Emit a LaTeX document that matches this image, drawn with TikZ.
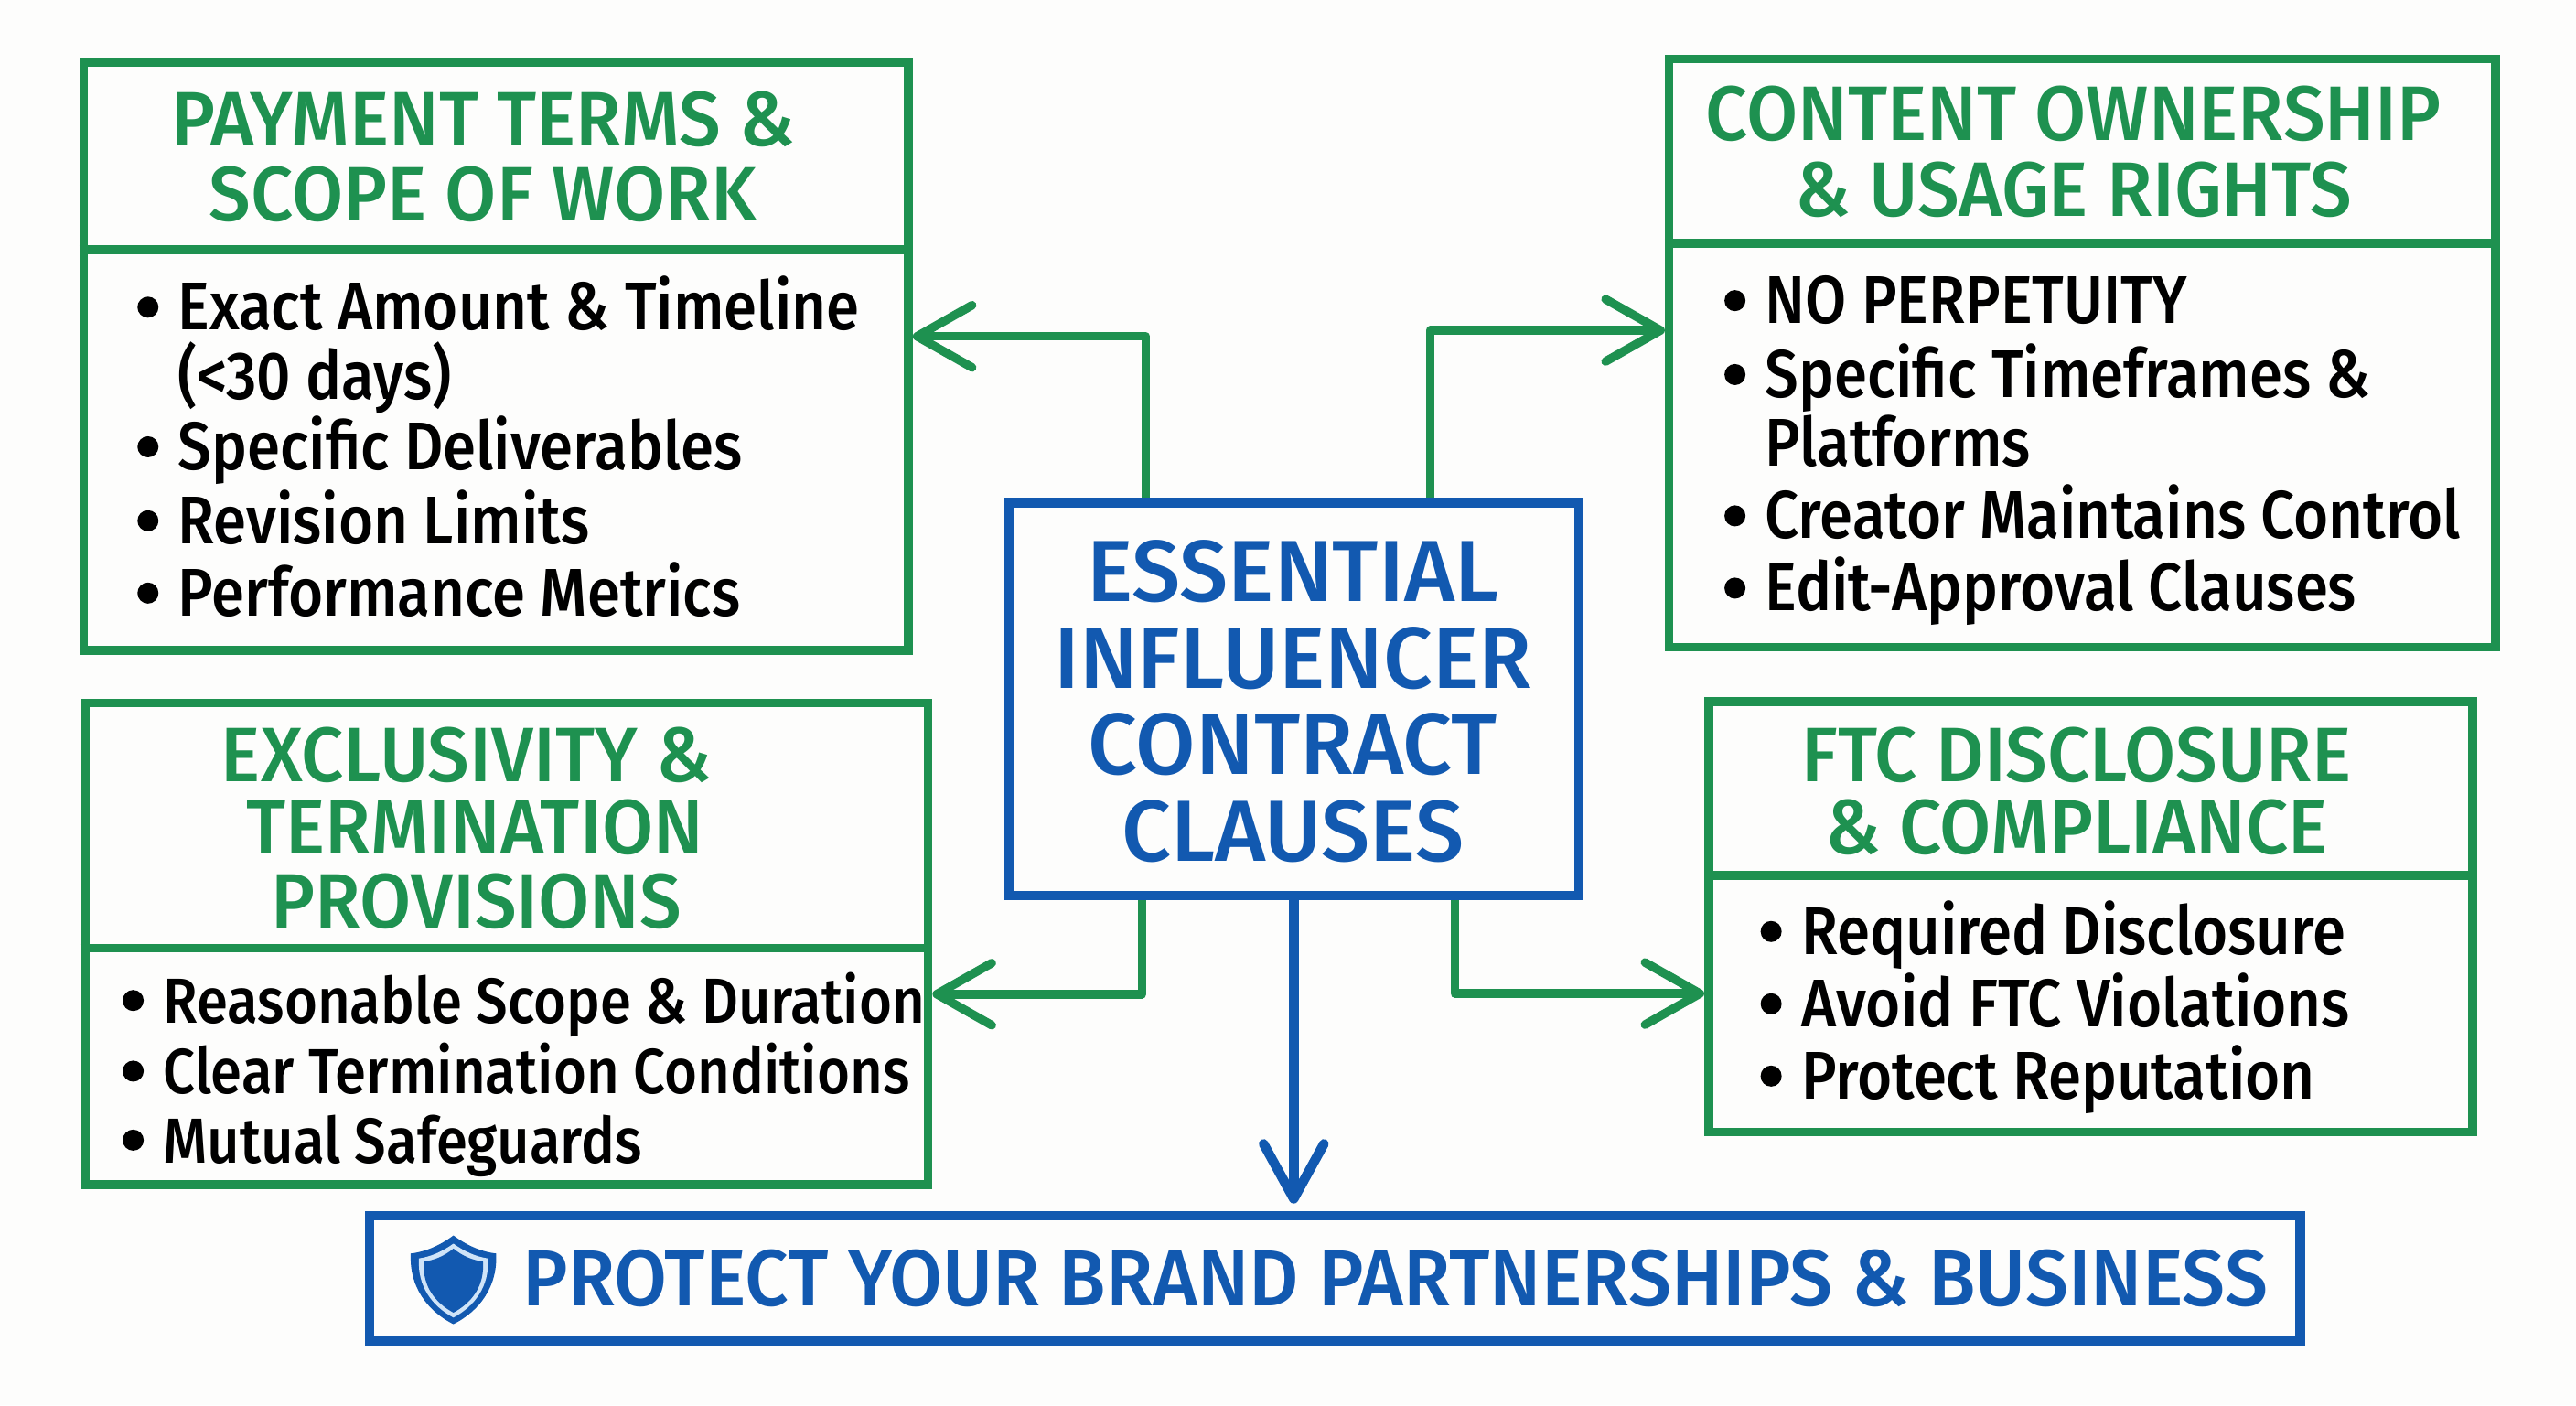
\documentclass[tikz,border=0pt]{standalone}
\usepackage{fontspec}
\setmainfont{Fira Sans}
\newfontfamily\itemfont{Fira Sans Medium}[FakeStretch=0.887]
\newfontfamily\titlefont{Fira Sans Medium}[FakeStretch=0.965]
\newfontfamily\mainfont{Fira Sans Medium}
\usetikzlibrary{arrows.meta}

\definecolor{termgreen}{HTML}{1E9150}
\definecolor{termblue}{HTML}{1259B0}
\definecolor{shieldpale}{HTML}{CFE4F8}
\definecolor{paper}{HTML}{FDFDFC}

\def\u{0.01796cm}

\tikzset{
    greenbox/.style={draw=termgreen, line width=2.7pt, inner sep=0pt},
    bluebox/.style={draw=termblue, line width=3pt, inner sep=0pt},
    size/.style 2 args={minimum width=#1*\u, minimum height=#2*\u},
    titleline/.style={text=termgreen, font=\titlefont\fontsize{24}{24}\selectfont, inner sep=0pt, text height=0.7cm, text depth=0.1cm},
    mainline/.style={text=termblue, font=\mainfont\fontsize{27}{27}\selectfont, inner sep=0pt, text height=0.7cm, text depth=0.05cm},
    itemline/.style={anchor=west, text=black, font=\itemfont\fontsize{21}{21}\selectfont, inner sep=0pt, text height=0.6cm, text depth=0.1cm},
    pointline/.style={itemline, label={[circle, fill=black, inner sep=0pt, minimum size=0.23cm, label distance=0.2cm]left:{}}},
    smallpoint/.style={pointline, font=\itemfont\fontsize{19.8}{19.8}\selectfont},
    greenflow/.style={draw=termgreen, line width=2.7pt, line join=round, -{Straight Barb[round, length=0.6cm, width=0.68cm, line width=2.7pt]}},
    blueflow/.style={draw=termblue, line width=3pt, line join=round, shorten >=0.08cm, -{Straight Barb[round, length=0.6cm, width=0.66cm, line width=3pt]}},
}

\begin{document}
\begin{tikzpicture}[x=\u, y=-\u]
    \useasboundingbox[fill=paper] (0,0) rectangle (1568,855.3);

    % Centre Box
    \node[bluebox, size={347}{239}] (essential) at (787.5,425.5) {};
    \node[mainline] (e1) at (787,348) {ESSENTIAL};
    \node[mainline] (e2) at (787,401) {INFLUENCER};
    \node[mainline] (e3) at (787,453) {CONTRACT};
    \node[mainline] (e4) at (787,506) {CLAUSES};

    % Payment Box
    \node[greenbox, size={502}{358}] (payment) at (302,217) {};
    \draw[termgreen, line width=2.7pt] (payment.west |- 0,152) -- (payment.east |- 0,152);
    \node[titleline] (p1) at (294,72) {PAYMENT TERMS \&};
    \node[titleline] (p2) at (294,118) {SCOPE OF WORK};
    \node[pointline] (p3) at (108,187) {Exact Amount \& Timeline};
    \node[itemline] (p4) at (108,229) {(<30 days)};
    \node[pointline] (p5) at (108,272) {Specific Deliverables};
    \node[pointline] (p6) at (108,317) {Revision Limits};
    \node[pointline] (p7) at (108,361) {Performance Metrics};

    % Ownership Box
    \node[greenbox, size={503}{358}] (ownership) at (1267.5,215) {};
    \draw[termgreen, line width=2.7pt] (ownership.west |- 0,148) -- (ownership.east |- 0,148);
    \node[titleline] (o1) at (1262,69) {CONTENT OWNERSHIP};
    \node[titleline] (o2) at (1262,115) {\& USAGE RIGHTS};
    \node[pointline] (o3) at (1074,183) {NO PERPETUITY};
    \node[pointline] (o4) at (1074,228) {Specific Timeframes \&};
    \node[itemline] (o5) at (1074,270) {Platforms};
    \node[pointline] (o6) at (1074,314) {Creator Maintains Control};
    \node[pointline] (o7) at (1074,358) {Edit-Approval Clauses};

    % Exclusivity Box
    \node[greenbox, size={513}{293}] (exclusivity) at (308.5,574.5) {};
    \draw[termgreen, line width=2.7pt] (exclusivity.west |- 0,577) -- (exclusivity.east |- 0,577);
    \node[titleline] (x1) at (284,459) {EXCLUSIVITY \&};
    \node[titleline] (x2) at (289,503) {TERMINATION};
    \node[titleline] (x3) at (290,548) {PROVISIONS};
    \node[smallpoint] (x4) at (99,609) {Reasonable Scope \& Duration};
    \node[smallpoint] (x5) at (99,652) {Clear Termination Conditions};
    \node[smallpoint] (x6) at (99,694) {Mutual Safeguards};

    % Disclosure Box
    \node[greenbox, size={465}{262}] (disclosure) at (1272.5,558) {};
    \draw[termgreen, line width=2.7pt] (disclosure.west |- 0,533) -- (disclosure.east |- 0,533);
    \node[titleline] (d1) at (1264,459) {FTC DISCLOSURE};
    \node[titleline] (d2) at (1264,503) {\& COMPLIANCE};
    \node[pointline] (d3) at (1096,567) {Required Disclosure};
    \node[pointline] (d4) at (1096,611) {Avoid FTC Violations};
    \node[pointline] (d5) at (1096,655) {Protect Reputation};

    % Bottom Banner
    \node[bluebox, size={1175}{76}] (protect) at (812.5,778) {};
    \node[anchor=west, text=termblue, font=\titlefont\fontsize{24.75}{24.75}\selectfont, inner sep=0pt, text height=0.7cm, text depth=0.1cm] (b1) at (318,778) {PROTECT YOUR BRAND PARTNERSHIPS \& BUSINESS};

    % Shield
    \fill[termblue] (276,752) .. controls (284,758) and (293,762) .. (302,763) .. controls (303,783) and (292,798) .. (276,806) .. controls (260,798) and (249,783) .. (250,763) .. controls (259,762) and (268,758) .. (276,752) -- cycle;
    \fill[shieldpale] (276,757) .. controls (283,762) and (290,765) .. (297,766) .. controls (298,783) and (289,795) .. (276,802) .. controls (263,795) and (254,783) .. (255,766) .. controls (262,765) and (269,762) .. (276,757) -- cycle;
    \fill[termblue] (276,760) .. controls (282,765) and (288,767) .. (294,768) .. controls (295,783) and (287,793) .. (276,799) .. controls (265,793) and (257,783) .. (258,768) .. controls (264,767) and (270,765) .. (276,760) -- cycle;

    % Arrows
    \draw[greenflow] ([xshift=-1.62cm]essential.north) |- ([yshift=0.22cm]payment.east);
    \draw[greenflow] ([xshift=1.49cm]essential.north) |- ([yshift=0.25cm]ownership.west);
    \draw[greenflow] ([xshift=-1.66cm]essential.south) |- ([yshift=-0.55cm]exclusivity.east);
    \draw[greenflow] ([xshift=1.76cm]essential.south) |- ([yshift=-0.84cm]disclosure.west);
    \draw[blueflow] (essential.south) -- (protect.north -| essential.south);
\end{tikzpicture}
\end{document}
